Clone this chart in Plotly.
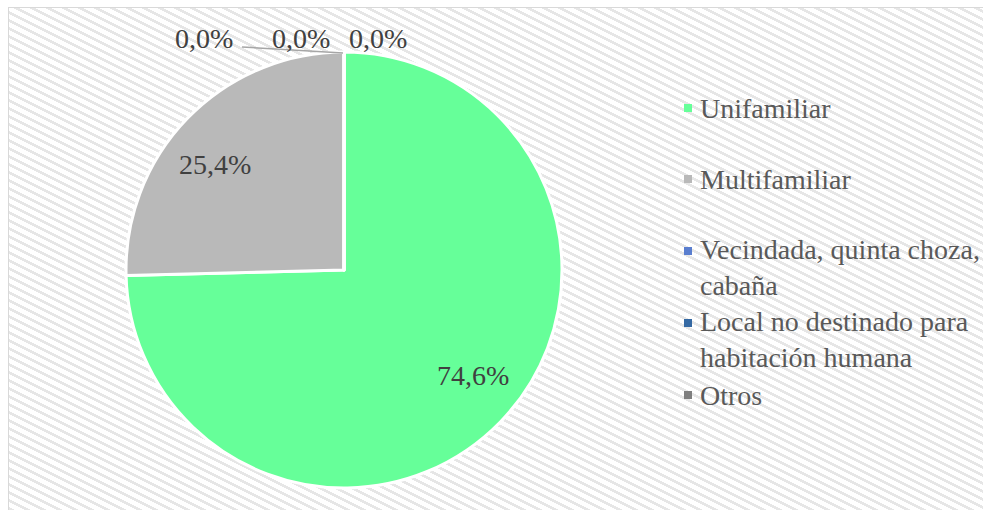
import base64
import math
import plotly.graph_objects as go

# ---- data ----
categories = ["Unifamiliar", "Multifamiliar", "Vecindada, quinta choza, cabaña",
              "Local no destinado para habitación humana", "Otros"]
legend_labels = ["Unifamiliar", "Multifamiliar", "Vecindada, quinta choza,<br>cabaña",
                 "Local no destinado para<br>habitación humana", "Otros"]
percentages = [74.6, 25.4, 0.0, 0.0, 0.0]
colors = ["#66FF99", "#B9B9B9", "#5A7ECF", "#3569A3", "#7F7F7F"]

W, H = 983, 510


def fmt(v):
    return f"{v:.1f}".replace(".", ",") + "%"


def px(x):
    return x / W


def py(y):
    return 1 - y / H


# background hatch + chart-area frame as svg
fx, fy = 8, 7
svg = f'''<svg xmlns="http://www.w3.org/2000/svg" width="{W}" height="{H}" shape-rendering="crispEdges">
<defs><pattern id="p" width="16" height="8" patternUnits="userSpaceOnUse">
<rect width="16" height="8" fill="#ffffff"/>
<path d="M0,0 L16,8 M0,8 L16,16 M0,-8 L16,0" stroke="#e6e6e6" stroke-width="3"/>
</pattern></defs>
<rect width="{W}" height="{H}" fill="#ffffff"/>
<rect x="{fx}" y="{fy}" width="{W}" height="{H}" fill="url(#p)"/>
<rect x="{fx + 0.5}" y="{fy + 0.5}" width="{W + 5}" height="{H + 5}" fill="none" stroke="#d9d9d9" stroke-width="1.5"/>
</svg>'''
src = "data:image/svg+xml;base64," + base64.b64encode(svg.encode()).decode()

cx, cy, r = 344, 270, 218
FONT = "Liberation Serif"

fig = go.Figure()
fig.add_trace(go.Pie(
    labels=categories,
    values=percentages,
    textinfo="none",
    marker=dict(colors=colors, line=dict(color="#ffffff", width=3)),
    sort=False,
    direction="clockwise",
    rotation=0,
    domain=dict(x=[px(cx - r), px(cx + r)], y=[py(cy + r), py(cy - r)]),
    showlegend=False,
    hoverinfo="label+percent",
))

annotations = []
shapes = []

# inside labels, placed from the slice angles
start = 0.0
for v in percentages:
    if v > 0:
        mid = math.radians(start + v * 3.6 / 2 - 5)
        rr = 0.766 * r
        annotations.append(dict(x=px(cx + rr * math.sin(mid)), y=py(cy - rr * math.cos(mid)),
                                xref="paper", yref="paper", text=fmt(v), showarrow=False,
                                xanchor="center", yanchor="middle",
                                font=dict(family=FONT, size=28, color="#404040")))
    start += v * 3.6

# zero labels at top
zero_pos = [(204, 39), (301, 39), (378, 39)]
zeros = [v for v in percentages if v == 0]
for (x, y), v in zip(zero_pos, zeros):
    annotations.append(dict(x=px(x), y=py(y), xref="paper", yref="paper", text=fmt(v),
                            showarrow=False, xanchor="center", yanchor="middle",
                            font=dict(family=FONT, size=28, color="#404040")))
shapes.append(dict(type="line", xref="paper", yref="paper",
                   x0=px(242), y0=py(47), x1=px(cx - 1), y1=py(cy - r + 1),
                   line=dict(color="#A6A6A6", width=1.5)))

# legend (manual)
leg_y = [108, 179, 267, 339, 395]
mark_y = [108, 179, 251, 323, 395]
for lab, c, ty, my in zip(legend_labels, colors, leg_y, mark_y):
    annotations.append(dict(x=px(698), y=py(ty), xref="paper", yref="paper", text=lab,
                            showarrow=False, xanchor="left", yanchor="middle", align="left",
                            font=dict(family=FONT, size=28, color="#595959")))
    shapes.append(dict(type="rect", xref="paper", yref="paper",
                       x0=px(684), x1=px(692), y0=py(my - 4), y1=py(my + 4),
                       fillcolor=c, line=dict(width=0)))

fig.update_layout(
    width=W, height=H,
    margin=dict(l=0, r=0, t=0, b=0),
    paper_bgcolor="#ffffff",
    plot_bgcolor="#ffffff",
    annotations=annotations,
    shapes=shapes,
    images=[dict(source=src, xref="paper", yref="paper", x=0, y=1,
                 sizex=1, sizey=1, xanchor="left", yanchor="top",
                 sizing="stretch", layer="below")],
)

fig.write_html("out.html", config={"displayModeBar": False},
               post_script="document.body.style.margin='0px';")
